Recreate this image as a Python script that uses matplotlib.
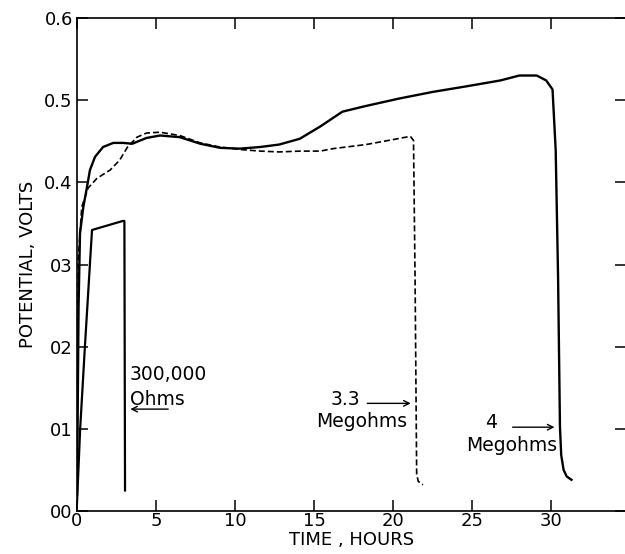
import numpy as np
import matplotlib
matplotlib.use("Agg")
import matplotlib.pyplot as plt

# 300,000 ohms
t_300k = [0.0, 0.2, 0.5, 0.95, 2.9, 3.0, 3.04]
v_300k = [0.01, 0.10, 0.20, 0.342, 0.353, 0.353, 0.025]

# 3.3 megohms (dashed)
t_33m = [0.0, 0.08, 0.3, 0.7, 1.27, 2.1, 2.7, 3.2, 3.8, 4.4, 5.25, 6.5, 7.8, 9.05,
         10.3, 11.6, 12.8, 14.1, 15.4, 16.2, 18.3, 20.0, 21.1, 21.3, 21.4, 21.5, 21.6, 21.9]
v_33m = [0.02, 0.305, 0.37, 0.393, 0.405, 0.415, 0.427, 0.443, 0.455, 0.46, 0.461, 0.457,
         0.448, 0.443, 0.44, 0.438, 0.437, 0.438, 0.438, 0.441, 0.446, 0.452, 0.456, 0.451,
         0.281, 0.045, 0.036, 0.032]

# 4 megohms
t_4m = [0.0, 0.1, 0.19, 0.4, 0.63, 0.82, 1.14, 1.65, 2.3, 2.9, 3.5, 4.4, 5.25, 6.5, 7.8,
        9.05, 10.3, 11.6, 12.8, 14.1, 15.4, 16.8, 18.3, 20.4, 22.5, 24.7, 26.8, 28.0, 29.1,
        29.7, 30.1, 30.3, 30.45, 30.57, 30.65, 30.8, 31.0, 31.3]
v_4m = [0.02, 0.25, 0.338, 0.37, 0.394, 0.415, 0.431, 0.443, 0.448, 0.448, 0.447, 0.454,
        0.457, 0.455, 0.447, 0.442, 0.441, 0.443, 0.446, 0.453, 0.468, 0.486, 0.493, 0.502,
        0.51, 0.517, 0.524, 0.53, 0.53, 0.524, 0.513, 0.439, 0.285, 0.102, 0.068, 0.05,
        0.042, 0.038]

xticks = [0, 5, 10, 15, 20, 25, 30]
yticks = [0.0, 0.1, 0.2, 0.3, 0.4, 0.5, 0.6]
ytick_labels = ["00", "01", "02", "03", "0.4", "0.5", "0.6"]

plt.rcParams['font.family'] = ['DejaVu Sans']

fig = plt.figure(figsize=(6.25, 5.54), dpi=100)
W, H = 625.0, 554.0
ax = fig.add_axes([77 / W, (H - 511) / H, (626 - 77) / W, (511 - 18) / H])

ax.plot(t_300k, v_300k, color="black", lw=1.6)
ax.plot(t_4m, v_4m, color="black", lw=1.7)
ax.plot(t_33m, v_33m, color="black", lw=1.2, dashes=(3.6, 1.8))

ax.set_xlim(0, 34.75)
ax.set_ylim(0, 0.6)
ax.set_xticks(xticks)
ax.set_yticks(yticks)
ax.set_yticklabels(ytick_labels)
ax.tick_params(direction="in", length=8, width=1.1, labelsize=13, pad=3,
               top=True, right=True)
ax.tick_params(axis="x", pad=1)
ax.spines["right"].set_visible(False)
for s in ["left", "bottom", "top"]:
    ax.spines[s].set_linewidth(1.2)

ax.set_ylabel("POTENTIAL, VOLTS", fontsize=13, labelpad=5)
ax.set_xlabel("TIME , HOURS", fontsize=13, labelpad=0.5)

# annotations
ax.text(3.35, 0.159, "300,000", fontsize=13.5, ha="left", va="baseline")
ax.text(3.35, 0.129, "Ohms", fontsize=13.5, ha="left", va="baseline")
ax.annotate("", xy=(3.2, 0.124), xytext=(5.95, 0.124),
            arrowprops=dict(arrowstyle="->", lw=1.0, color="black"))

ax.text(17.9, 0.129, "3.3", fontsize=13.5, ha="right", va="baseline")
ax.text(20.9, 0.102, "Megohms", fontsize=13.5, ha="right", va="baseline")
ax.annotate("", xy=(21.3, 0.131), xytext=(18.2, 0.131),
            arrowprops=dict(arrowstyle="->", lw=1.0, color="black"))

ax.text(26.2, 0.101, "4", fontsize=13.5, ha="center", va="baseline")
ax.text(30.4, 0.073, "Megohms", fontsize=13.5, ha="right", va="baseline")
ax.annotate("", xy=(30.4, 0.102), xytext=(27.4, 0.102),
            arrowprops=dict(arrowstyle="->", lw=1.0, color="black"))

fig.savefig("out.png", dpi=100)
